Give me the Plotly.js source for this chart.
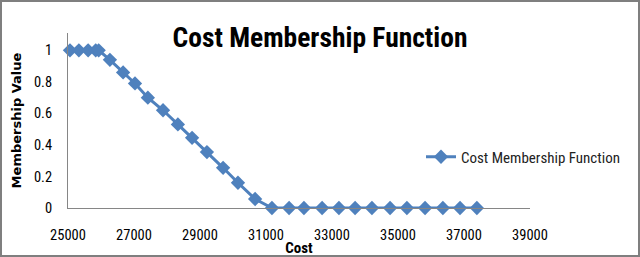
<!DOCTYPE html>
<html>
<head>
<meta charset="utf-8">
<script src="https://cdn.plot.ly/plotly-3.0.1.min.js"></script>
<style>
  html, body { margin: 0; padding: 0; background: #fff; }
  #wrap { position: relative; width: 640px; height: 257px; }
  #chart { width: 640px; height: 257px; }
  #frame { position: absolute; left: 0; top: 0; width: 640px; height: 257px; box-sizing: border-box; border: 2px solid #7f7f7f; pointer-events: none; }
</style>
</head>
<body>
<div id="wrap">
  <div id="chart"></div>
  <div id="frame"></div>
</div>
<script>
// Data
const cost = [25060, 25330, 25610, 25840, 25930,
              26270, 26670, 27030, 27420, 27880, 28330, 28760, 29210, 29700, 30150, 30670,
              31180, 31700, 32150, 32700, 33210, 33700, 34210, 34760, 35270, 35820, 36360, 36880, 37390];
const membership = [1, 1, 1, 1, 1,
              0.94, 0.86, 0.79, 0.70, 0.62, 0.53, 0.445, 0.355, 0.255, 0.16, 0.057,
              0, 0, 0, 0, 0, 0, 0, 0, 0, 0, 0, 0, 0];
const seriesName = "Cost Membership Function";
const chartTitle = "Cost Membership Function";
const xTitle = "Cost";
const yTitle = "Membership Value";
const xTickVals = [25000, 27000, 29000, 31000, 33000, 35000, 37000, 39000];
const yTickVals = [0, 0.2, 0.4, 0.6, 0.8, 1];
const yTickText = ["0", "0.2", "0.4", "0.6", "0.8", "1"];

const cond = "'Roboto Condensed', 'Liberation Sans', sans-serif";
const ML = 68, MR = 8, plotRight = 530;
const paperW = 640 - ML - MR;

const trace = {
  x: cost, y: membership, name: seriesName,
  type: "scatter", mode: "lines+markers",
  line: { color: "#4F81BD", width: 3 },
  marker: { symbol: "diamond", size: 11, color: "#4F81BD" },
  cliponaxis: false,
  showlegend: true
};

const layout = {
  width: 640, height: 257,
  margin: { l: ML, r: MR, t: 33, b: 49 },
  paper_bgcolor: "#fff", plot_bgcolor: "rgba(0,0,0,0)",
  showlegend: true,
  title: {
    text: chartTitle, xref: "container", x: 0.5, xanchor: "center",
    yref: "container", y: 1 - 37 / 257, yanchor: "middle",
    font: { family: cond, size: 27.5, color: "#000", weight: "bold" }
  },
  xaxis: {
    domain: [0, (plotRight - ML) / paperW],
    range: [25000, 39000], tickvals: xTickVals, ticktext: xTickVals.map(String),
    showgrid: false, zeroline: false, showline: true, linecolor: "#868686", linewidth: 1,
    ticks: "outside", ticklen: 14, tickcolor: "rgba(0,0,0,0)",
    tickfont: { family: cond, size: 14.5, color: "#000" },
    title: { text: xTitle, standoff: 2, font: { family: cond, size: 15, color: "#000", weight: "bold" } }
  },
  yaxis: {
    range: [0, 1.11], tickvals: yTickVals, ticktext: yTickText,
    showgrid: false, zeroline: false, showline: true, linecolor: "#868686", linewidth: 1,
    ticks: "outside", ticklen: 12, tickcolor: "rgba(0,0,0,0)",
    tickfont: { family: cond, size: 14.5, color: "#000" },
    title: { text: yTitle, standoff: 9, font: { family: "'DejaVu Sans', sans-serif", size: 13, color: "#000", weight: "bold" } }
  },
  legend: {
    x: (421 - ML) / paperW, xanchor: "left", y: (208 - 157) / 175, yanchor: "middle",
    bgcolor: "rgba(0,0,0,0)", borderwidth: 0,
    font: { family: cond, size: 15, color: "#222" }
  }
};

Plotly.newPlot("chart", [trace], layout, { displayModeBar: false, staticPlot: true });
</script>
</body>
</html>
